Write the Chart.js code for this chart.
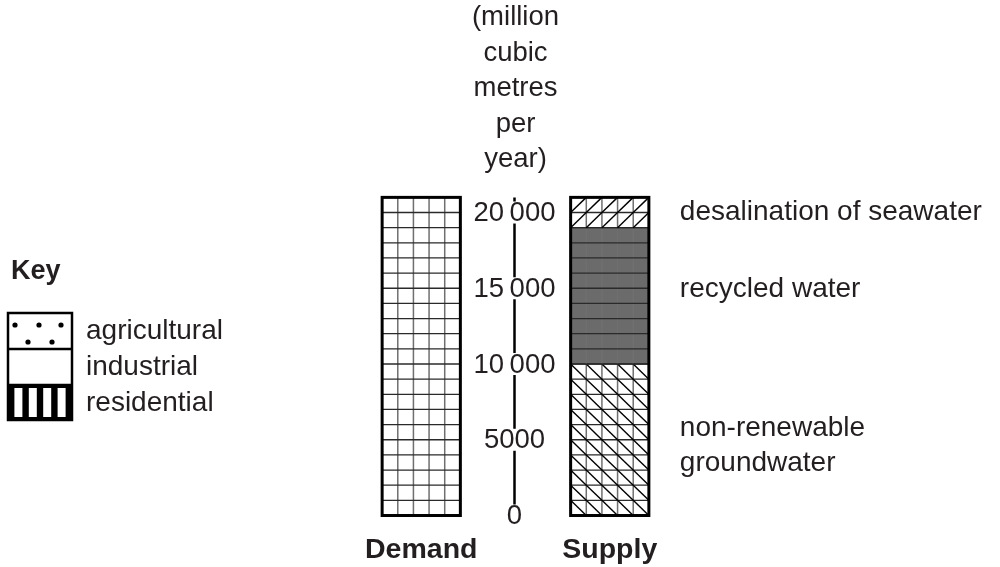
<!DOCTYPE html>
<html lang="en">
<head>
    <meta charset="UTF-8">
    <title>Water demand and supply</title>
    <script src="https://cdn.jsdelivr.net/npm/chart.js"></script>
    <style>
        html, body { margin: 0; padding: 0; background: #fff; }
        #wrap { width: 1000px; height: 567px; }
    </style>
</head>
<body>
    <div id="wrap"><canvas id="waterChart"></canvas></div>
    <script>
        // data
        const categories = ['Demand', 'Supply'];
        const demandValues = [21000, null];
        const groundwaterValues = [null, 10000];
        const recycledValues = [null, 9000];
        const desalinationValues = [null, 2000];
        const segmentNames = ['non-renewable\ngroundwater', 'recycled water', 'desalination of seawater'];
        const yTickValues = [0, 5000, 10000, 15000, 20000];
        const yTickLabels = ['0', '5000', '10\u2009000', '15\u2009000', '20\u2009000'];
        const unitLines = ['(million', 'cubic', 'metres', 'per', 'year)'];
        const keyLabels = ['agricultural', 'industrial', 'residential'];

        const FONT = '"Liberation Sans", Arial, Helvetica, sans-serif';
        const INK = '#231f20';
        const STEP = 1000;   // one grid row
        const COLS = 5;

        // fill + hatch per dataset
        const looks = [
            { fill: '#ffffff', diag: null },
            { fill: '#ffffff', diag: 'down' },
            { fill: '#6b6b6b', diag: null },
            { fill: '#ffffff', diag: 'up' }
        ];

        const barDecor = {
            id: 'barDecor',
            afterDatasetsDraw(chart) {
                const ctx = chart.ctx, y = chart.scales.y;
                ctx.save();
                chart.data.datasets.forEach((ds, i) => {
                    const meta = chart.getDatasetMeta(i);
                    meta.data.forEach((bar, j) => {
                        if (ds.data[j] == null) return;
                        const left = bar.x - bar.width / 2, right = bar.x + bar.width / 2;
                        const v0 = Math.round(y.getValueForPixel(bar.base));
                        const v1 = Math.round(y.getValueForPixel(bar.y));
                        const colW = (right - left) / COLS;
                        // vertical lines
                        ctx.strokeStyle = '#6f6f6f';
                        ctx.lineWidth = 1.5;
                        for (let c = 1; c < COLS; c++) {
                            ctx.beginPath();
                            ctx.moveTo(left + c * colW, bar.y);
                            ctx.lineTo(left + c * colW, bar.base);
                            ctx.stroke();
                        }
                        // horizontal lines
                        ctx.strokeStyle = '#2a2a2a';
                        ctx.lineWidth = 1.3;
                        for (let v = v0; v <= v1; v += STEP) {
                            if (v === 0) continue;
                            const py = y.getPixelForValue(v);
                            ctx.beginPath();
                            ctx.moveTo(left, py);
                            ctx.lineTo(right, py);
                            ctx.stroke();
                        }
                        // diagonals in each cell
                        const d = looks[i].diag;
                        if (d) {
                            ctx.strokeStyle = '#000';
                            ctx.lineWidth = 1.4;
                            for (let v = v0; v < v1; v += STEP) {
                                const yb = y.getPixelForValue(v), yt = y.getPixelForValue(v + STEP);
                                for (let c = 0; c < COLS; c++) {
                                    const xl = left + c * colW, xr = xl + colW;
                                    ctx.beginPath();
                                    if (d === 'down') { ctx.moveTo(xl, yt); ctx.lineTo(xr, yb); }
                                    else { ctx.moveTo(xl, yb); ctx.lineTo(xr, yt); }
                                    ctx.stroke();
                                }
                            }
                        }
                    });
                });
                // thick outline round each whole bar
                categories.forEach((cat, j) => {
                    let total = 0, bar = null;
                    chart.data.datasets.forEach((ds, i) => {
                        if (ds.data[j] != null) { total += ds.data[j]; bar = chart.getDatasetMeta(i).data[j]; }
                    });
                    const top = y.getPixelForValue(total), bottom = y.getPixelForValue(0);
                    ctx.strokeStyle = '#000';
                    ctx.lineWidth = 3;
                    ctx.strokeRect(bar.x - bar.width / 2, top, bar.width, bottom - top);
                });
                ctx.restore();
            }
        };

        const middleAxis = {
            id: 'middleAxis',
            afterDraw(chart) {
                const ctx = chart.ctx, x = chart.scales.x, y = chart.scales.y;
                const ax = (x.getPixelForValue(0) + x.getPixelForValue(1)) / 2 - 1;
                ctx.save();
                ctx.strokeStyle = '#000';
                ctx.lineWidth = 2.5;
                ctx.beginPath();
                ctx.moveTo(ax, y.getPixelForValue(y.max));
                ctx.lineTo(ax, y.getPixelForValue(0));
                ctx.stroke();
                ctx.font = '27.5px ' + FONT;
                ctx.textAlign = 'center';
                ctx.textBaseline = 'middle';
                yTickValues.forEach((v, k) => {
                    const py = y.getPixelForValue(v);
                    const w = ctx.measureText(yTickLabels[k]).width;
                    ctx.fillStyle = '#fff';
                    ctx.fillRect(ax - w / 2 - 2, py - 11, w + 4, 22);
                    ctx.fillStyle = INK;
                    ctx.fillText(yTickLabels[k], ax, py + 1);
                });

                // segment names to the right of the supply bar
                ctx.font = '28px ' + FONT;
                ctx.textAlign = 'left';
                const nudge = [6, -7, 0];
                [1, 2, 3].forEach((i, k) => {
                    const bar = chart.getDatasetMeta(i).data[1];
                    const mid = (bar.y + bar.base) / 2 + nudge[k];
                    const lines = segmentNames[k].split('\n');
                    lines.forEach((ln, n) => {
                        ctx.fillText(ln, bar.x + bar.width / 2 + 31, mid + (n - (lines.length - 1) / 2) * 35);
                    });
                });

                // key
                ctx.font = 'bold 27px ' + FONT;
                ctx.fillText('Key', 11, 272);
                const kx = 8, kw = 64, rows = [313, 349, 385, 420];
                ctx.fillStyle = '#000';
                const slit = 8, barW = (kw - 4 * slit) / 5;
                ctx.fillRect(kx, rows[2], kw, rows[3] - rows[2]);
                ctx.fillStyle = '#fff';
                for (let s = 0; s < 4; s++) {
                    ctx.fillRect(kx + barW * (s + 1) + slit * s, rows[2] + 3, slit, rows[3] - rows[2] - 6);
                }
                ctx.fillStyle = '#000';
                [[15, 325], [39, 325], [61, 325], [28, 342], [52, 342]].forEach(p => {
                    ctx.beginPath();
                    ctx.arc(p[0], p[1], 2.6, 0, Math.PI * 2);
                    ctx.fill();
                });
                ctx.lineWidth = 2.5;
                ctx.strokeRect(kx, rows[0], kw, rows[3] - rows[0]);
                ctx.beginPath();
                ctx.moveTo(kx, rows[1]); ctx.lineTo(kx + kw, rows[1]);
                ctx.moveTo(kx, rows[2]); ctx.lineTo(kx + kw, rows[2]);
                ctx.stroke();
                ctx.font = '28px ' + FONT;
                ctx.fillStyle = INK;
                keyLabels.forEach((t, k) => ctx.fillText(t, 86, 331 + k * 36));
                ctx.restore();
            }
        };

        const datasets = [demandValues, groundwaterValues, recycledValues, desalinationValues].map((vals, i) => ({
            label: i === 0 ? 'Demand' : segmentNames[i - 1],
            data: vals,
            backgroundColor: looks[i].fill,
            borderWidth: 0,
            barPercentage: 0.415,
            categoryPercentage: 1
        }));

        const chart = new Chart(document.getElementById('waterChart'), {
            type: 'bar',
            data: { labels: categories, datasets: datasets },
            options: {
                responsive: true,
                maintainAspectRatio: false,
                animation: false,
                layout: { padding: { left: 327, right: 296, top: 0, bottom: -17 } },
                plugins: {
                    legend: { display: false },
                    tooltip: { enabled: false },
                    title: {
                        display: true,
                        text: unitLines,
                        color: INK,
                        font: { family: FONT, size: 27.5, weight: 'normal', lineHeight: 1.29 },
                        padding: { top: 0, bottom: 20 }
                    }
                },
                scales: {
                    x: {
                        stacked: true,
                        grid: { display: false, drawTicks: false },
                        border: { display: false },
                        ticks: { color: INK, padding: 18, font: { family: FONT, size: 28.5, weight: 'bold', lineHeight: 1.14 } }
                    },
                    y: {
                        stacked: true,
                        display: false,
                        min: 0,
                        max: 21000
                    }
                }
            },
            plugins: [barDecor, middleAxis]
        });
    </script>
</body>
</html>
